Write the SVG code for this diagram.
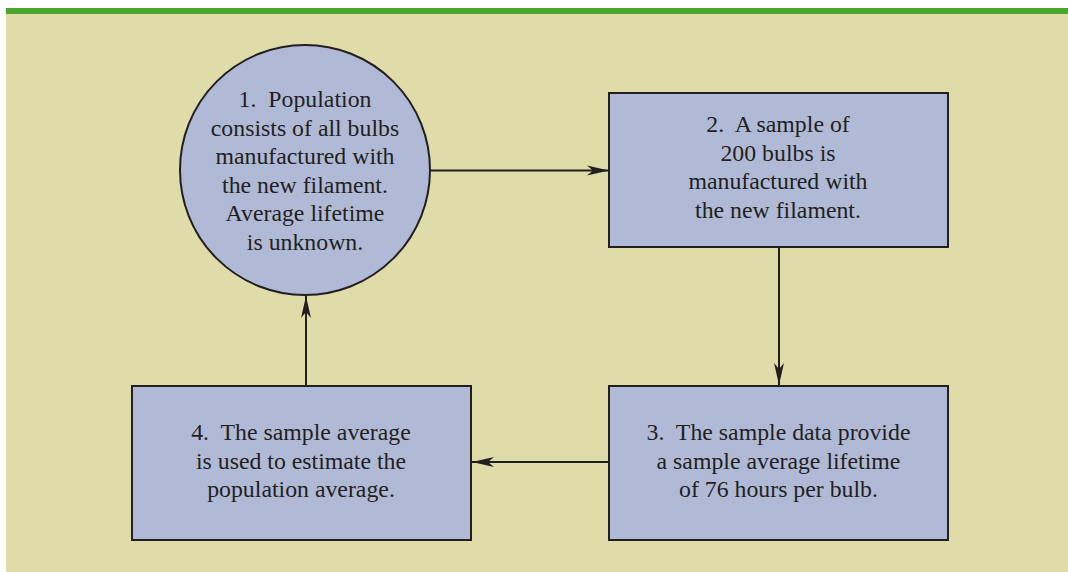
<svg xmlns="http://www.w3.org/2000/svg" width="1068" height="572" viewBox="0 0 1068 572">
<style>
.node{fill:#b0bad6;stroke:#231f20;stroke-width:2}
.t{font-family:"Liberation Serif","Times New Roman",serif;font-size:23.8px;fill:#231f20;text-anchor:middle}
.c{stroke:#231f20;stroke-width:2;fill:none;marker-end:url(#ah)}
</style>
<defs>
<marker id="ah" markerUnits="userSpaceOnUse" viewBox="-22 -6 24 12" refX="0" refY="0" markerWidth="24" markerHeight="12" orient="auto">
<path d="M0,0 L-22,-5 L-16,0 L-22,5 Z" fill="#231f20"/>
</marker>
</defs>
<rect x="0" y="0" width="1068" height="572" fill="#ffffff"/>
<rect x="6" y="14" width="1062" height="558" fill="#dfdcaa"/>
<rect x="6" y="8" width="1062" height="6" fill="#4aa42c"/>
<g id="connectors">
<line class="c" x1="430" y1="170.5" x2="609" y2="170.5"/>
<line class="c" x1="779" y1="247" x2="779" y2="385"/>
<line class="c" x1="609" y1="462" x2="472" y2="462"/>
<line class="c" x1="306" y1="386" x2="306" y2="296"/>
</g>
<g id="n1">
<circle class="node" cx="305" cy="170" r="125"/>
<text class="t" x="305" y="107">1.&#160; Population</text>
<text class="t" x="305" y="135.5">consists of all bulbs</text>
<text class="t" x="305" y="164">manufactured with</text>
<text class="t" x="305" y="192.5">the new filament.</text>
<text class="t" x="305" y="221">Average lifetime</text>
<text class="t" x="305" y="249.5">is unknown.</text>
</g>
<g id="n2">
<rect class="node" x="609" y="93" width="339" height="154"/>
<text class="t" x="778" y="132">2.&#160; A sample of</text>
<text class="t" x="778" y="160.5">200 bulbs is</text>
<text class="t" x="778" y="189">manufactured with</text>
<text class="t" x="778" y="217.5">the new filament.</text>
</g>
<g id="n3">
<rect class="node" x="609" y="386" width="339" height="154"/>
<text class="t" x="778.5" y="440">3.&#160; The sample data provide</text>
<text class="t" x="778.5" y="468.5">a sample average lifetime</text>
<text class="t" x="778.5" y="497">of 76 hours per bulb.</text>
</g>
<g id="n4">
<rect class="node" x="132" y="386" width="339" height="154"/>
<text class="t" x="301" y="440">4.&#160; The sample average</text>
<text class="t" x="301" y="468.5">is used to estimate the</text>
<text class="t" x="301" y="497">population average.</text>
</g>
</svg>
